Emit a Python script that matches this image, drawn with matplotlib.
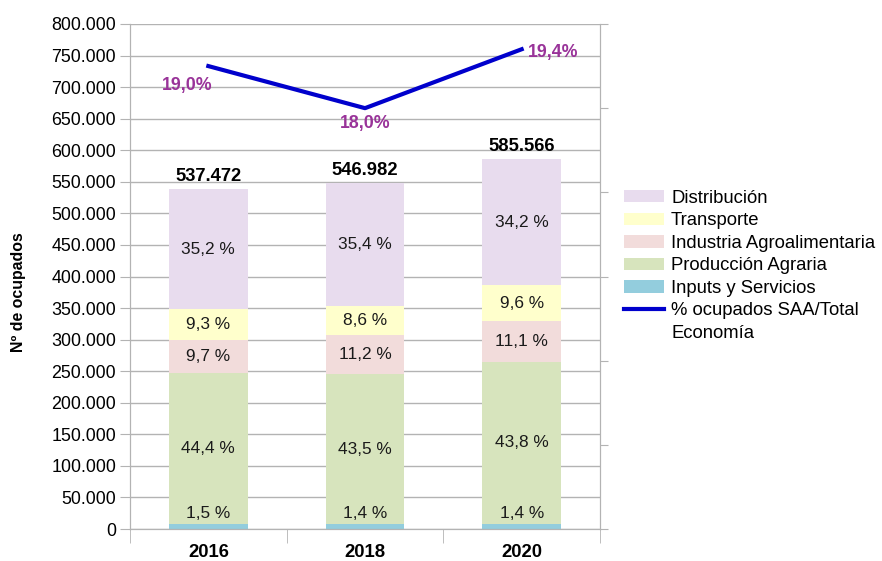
import matplotlib
matplotlib.use("Agg")
import matplotlib.pyplot as plt
import numpy as np
from matplotlib.patches import Patch
from matplotlib.lines import Line2D

plt.rcParams['font.family'] = ['Liberation Sans', 'DejaVu Sans']

years = ["2016", "2018", "2020"]
totals = [537472, 546982, 585566]

# shares of each sector, % of total (bottom to top)
sectors = ["Inputs y Servicios", "Producción Agraria", "Industria Agroalimentaria",
           "Transporte", "Distribución"]
pct_inputs = [1.5, 1.4, 1.4]
pct_produccion = [44.4, 43.5, 43.8]
pct_industria = [9.7, 11.2, 11.1]
pct_transporte = [9.3, 8.6, 9.6]
pct_distribucion = [35.2, 35.4, 34.2]

pct_saa = [19.0, 18.0, 19.4]

colors = ["#93CDDD", "#D7E4BD", "#F2DCDB", "#FFFFCC", "#E8DCEE"]
grid_col = "#B3B3B3"
lbl_col = "#993399"


def fmt_thousands(v):
    return f"{int(round(v)):,}".replace(",", ".")


def main():
    fig = plt.figure(figsize=(8.82, 5.61), dpi=100)
    ax = fig.add_axes([130 / 882, 1 - 529 / 561, 470 / 882, 505 / 561])

    x = np.arange(len(years))
    shares = [pct_inputs, pct_produccion, pct_industria, pct_transporte, pct_distribucion]
    bottom = np.zeros(len(years))
    for share, col in zip(shares, colors):
        vals = np.array(share) / 100 * np.array(totals)
        ax.bar(x, vals, 0.5, bottom=bottom, color=col, zorder=2)
        for i in range(len(years)):
            # the thin bottom segment gets its label just above it
            ypos = bottom[i] + 24000 if share is pct_inputs else bottom[i] + vals[i] / 2
            ax.text(x[i], ypos, f"{share[i]:.1f} %".replace(".", ","), ha="center", va="center",
                    fontsize=12.4, color="#1a1a1a", zorder=3)
        bottom += vals

    for i in range(len(years)):
        ax.text(x[i], totals[i] + 7000, fmt_thousands(totals[i]), ha="center", va="bottom",
                fontsize=13.2, fontweight="bold", zorder=3)

    ax.set_xlim(-0.5, len(years) - 0.5)
    ax.set_ylim(0, 800000)
    ax.set_yticks(np.arange(0, 800001, 50000))
    ax.set_yticklabels([fmt_thousands(v) for v in np.arange(0, 800001, 50000)], fontsize=12.9)
    ax.set_xticks(x)
    ax.set_xticklabels(years, fontsize=13.3, fontweight="bold")
    ax.set_xticks(np.arange(-0.5, len(years)), minor=True)
    ax.tick_params(axis="x", which="major", length=0, pad=11)
    ax.tick_params(axis="x", which="minor", length=10, color=grid_col)
    ax.tick_params(axis="y", length=7, color=grid_col, pad=3)
    ax.yaxis.grid(True, color=grid_col, linewidth=1, zorder=0)
    ax.set_axisbelow(True)
    ax.spines["top"].set_visible(False)
    for s in ["left", "right", "bottom"]:
        ax.spines[s].set_color(grid_col)
    ax.set_ylabel("Nº de ocupados", fontsize=11.4, fontweight="bold")
    ax.yaxis.set_label_coords(-0.221, 0.469)

    ax2 = ax.twinx()
    ax2.plot(x, pct_saa, color="#0000CC", linewidth=3, zorder=4)
    ax2.set_ylim(8, 20)
    ax2.set_yticks(np.arange(8, 20.1, 2))
    ax2.set_yticklabels([])
    ax2.tick_params(axis="y", length=6, color=grid_col)
    ax2.spines["top"].set_visible(False)
    for s in ["left", "right", "bottom"]:
        ax2.spines[s].set_color(grid_col)

    offsets = [(-15, -14), (0, -11), (23, -2)]
    for i in range(len(years)):
        ax2.annotate(f"{pct_saa[i]:.1f}%".replace(".", ","), (x[i], pct_saa[i]),
                     xytext=offsets[i], textcoords="offset points", ha="center", va="center",
                     fontsize=12.8, fontweight="bold", color=lbl_col)

    handles = [Patch(facecolor=c) for c in colors[::-1]]
    handles.append(Line2D([0], [0], color="#0000CC", linewidth=3))
    handles.append(Line2D([0], [0], color="none"))
    labels = sectors[::-1] + ["% ocupados SAA/Total", "Economía"]
    fig.legend(handles, labels, loc="upper left", bbox_to_anchor=(609 / 882, 1 - 175 / 561),
               frameon=False, fontsize=13.3, handlelength=2.16, handleheight=0.65,
               labelspacing=0.30, handletextpad=0.4, borderpad=0.3)

    fig.savefig("out.png", dpi=100)


if __name__ == "__main__":
    main()
